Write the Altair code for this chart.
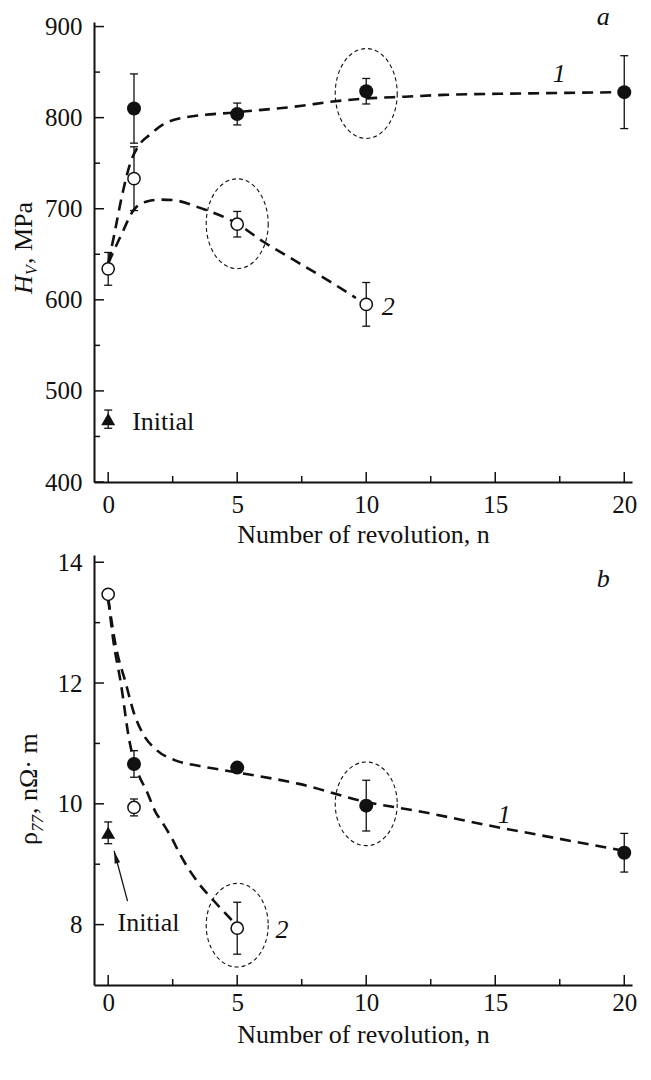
import altair as alt
import pandas as pd

FONT = "Liberation Serif"

# ---------------- panel a : microhardness ----------------
a_filled_n = [1, 5, 10, 20]
a_filled_v = [810, 804, 829, 828]
a_filled_err = [38, 12, 14, 40]

a_open_n = [0, 1, 5, 10]
a_open_v = [634, 733, 683, 595]
a_open_err = [18, 35, 14, 24]

a_init_n = [0]
a_init_v = [469]
a_init_err = [10]

a_fit1_n = [0, 0.23, 0.54, 0.88, 1.2, 1.6, 2.1, 2.75, 5, 7.5, 8.5, 10, 11.5, 13, 16, 20]
a_fit1_v = [640, 671, 715, 752, 770, 781, 792, 799, 806, 813, 817, 821, 823, 825, 826.5, 828]

a_fit2_n = [0, 0.5, 1.0, 1.5, 2.0, 2.5, 3.5, 5, 6, 7, 8.6, 9.6]
a_fit2_v = [640, 671, 699, 708, 710, 709.5, 701.5, 683.5, 664, 647, 620, 602]

a_ring_n = [5, 10]
a_ring_v = [683.5, 826.5]

a_lbl_text = ["a", "1", "2"]
a_lbl_n = [19.19, 17.48, 10.85]
a_lbl_v = [902, 839.6, 583.5]
a_init_lbl_n = [0.93]
a_init_lbl_v = [457.5]

# ---------------- panel b : resistivity ----------------
b_filled_n = [1, 5, 10, 20]
b_filled_v = [10.66, 10.60, 9.97, 9.19]
b_filled_err = [0.22, 0.04, 0.42, 0.32]

b_open_n = [0, 1, 5]
b_open_v = [13.47, 9.94, 7.94]
b_open_err = [0.03, 0.14, 0.43]

b_init_n = [0]
b_init_v = [9.52]
b_init_err = [0.18]

b_fit1_n = [0, 0.3, 0.68, 1.0, 1.32, 1.85, 2.6, 3.5, 5, 7.4, 10, 12, 15, 17.5, 20]
b_fit1_v = [13.4, 12.6, 12.0, 11.5, 11.18, 10.9, 10.72, 10.63, 10.52, 10.33, 10.03, 9.88, 9.62, 9.42, 9.22]

b_fit2_n = [0, 0.2, 0.49, 0.81, 1.2, 1.46, 1.84, 2.1, 2.49, 2.75, 3.53, 4.04, 4.82]
b_fit2_v = [13.4, 12.7, 12.0, 11.07, 10.46, 10.24, 9.86, 9.69, 9.41, 9.19, 8.67, 8.42, 8.06]

b_ring_n = [5, 10]
b_ring_v = [7.99, 10.0]

b_lbl_text = ["b", "1", "2"]
b_lbl_n = [19.19, 15.35, 6.74]
b_lbl_v = [13.586, 9.69, 7.78]
b_init_lbl_n = [0.36]
b_init_lbl_v = [7.90]

b_arrow_n = [0.75, 0.23]
b_arrow_v = [8.39, 9.22]

# ---------------- axes ticks ----------------
x_major = [0, 5, 10, 15, 20]
x_minor = [2.5, 7.5, 12.5, 17.5]
a_y_major = [400, 500, 600, 700, 800, 900]
a_y_minor = [450, 550, 650, 750, 850]
b_y_major = [8, 10, 12, 14]
b_y_minor = [9, 11, 13]

W = 538
BLACK = "#111111"


def ellipse_path(ratio):
    k = 0.5523
    r = ratio
    return (f"M1,0C1,{r*k:.4f} {k},{r} 0,{r}C-{k},{r} -1,{r*k:.4f} -1,0"
            f"C-1,-{r*k:.4f} -{k},-{r} 0,-{r}C{k},-{r} 1,-{r*k:.4f} 1,0Z")


def panel(H, ydom, y_major, y_minor, xlab_pad, xtitle_pad,
          filled, opened, init, fit1, fit2, rings, ring_ratio,
          labels, init_lbl, title_parts, arrow=None):
    xs = alt.Scale(domain=[-0.55, 20.3], nice=False, zero=False)
    ys = alt.Scale(domain=ydom, nice=False, zero=False)
    xax = alt.Axis(values=x_major, title="Number of revolution, n", ticks=False, tickSize=0,
                   labelPadding=xlab_pad, titlePadding=xtitle_pad, labelFlush=False)
    yax = alt.Axis(values=y_major, title=None, ticks=False, tickSize=0,
                   labelPadding=12, labelFlush=False)
    X = alt.X("n:Q", scale=xs, axis=xax)

    def Yf(f):
        return alt.Y(f"{f}:Q", scale=ys, axis=yax)

    layers = []
    # inner ticks
    layers.append(alt.Chart(pd.DataFrame({"n": x_major})).mark_rule(color=BLACK, strokeWidth=1.5)
                  .encode(x=X, y=alt.value(H), y2=alt.value(H - 10)))
    layers.append(alt.Chart(pd.DataFrame({"n": x_minor})).mark_rule(color=BLACK, strokeWidth=1.5)
                  .encode(x=X, y=alt.value(H), y2=alt.value(H - 6)))
    layers.append(alt.Chart(pd.DataFrame({"v": y_major})).mark_rule(color=BLACK, strokeWidth=1.5)
                  .encode(y=Yf("v"), x=alt.value(0), x2=alt.value(10)))
    layers.append(alt.Chart(pd.DataFrame({"v": y_minor})).mark_rule(color=BLACK, strokeWidth=1.5)
                  .encode(y=Yf("v"), x=alt.value(0), x2=alt.value(6)))

    # fitted dashed curves
    for fn, fv in (fit1, fit2):
        layers.append(alt.Chart(pd.DataFrame({"n": fn, "v": fv}))
                      .mark_line(color=BLACK, strokeWidth=2.6, strokeDash=[11, 7], interpolate="monotone")
                      .encode(x=X, y=Yf("v")))

    # dashed rings
    layers.append(alt.Chart(pd.DataFrame({"n": rings[0], "v": rings[1]}))
                  .mark_point(shape=ellipse_path(ring_ratio), size=3844, filled=False, stroke=BLACK,
                              strokeWidth=1.1, strokeDash=[4, 3], opacity=1)
                  .encode(x=X, y=Yf("v")))

    # arrow
    if arrow is not None:
        adf = pd.DataFrame({"n": arrow[0], "v": arrow[1]})
        layers.append(alt.Chart(adf).mark_line(color=BLACK, strokeWidth=1.3).encode(x=X, y=Yf("v")))
        layers.append(alt.Chart(adf.iloc[[1]]).mark_point(shape="M0,0L0.4,1.8L-0.4,1.8Z", size=196,
                                                         filled=True, color=BLACK, opacity=1, angle=345)
                      .encode(x=X, y=Yf("v")))

    # error bars
    for sn, sv, se in (filled, opened, init):
        edf = pd.DataFrame({"n": sn, "lo": [a - b for a, b in zip(sv, se)],
                            "hi": [a + b for a, b in zip(sv, se)]})
        layers.append(alt.Chart(edf).mark_rule(color=BLACK, strokeWidth=1.3)
                      .encode(x=X, y=Yf("lo"), y2="hi:Q"))
        for f in ("lo", "hi"):
            layers.append(alt.Chart(edf).mark_tick(orient="horizontal", size=8, thickness=1.3, color=BLACK, opacity=1)
                          .encode(x=X, y=Yf(f)))

    # points
    layers.append(alt.Chart(pd.DataFrame({"n": filled[0], "v": filled[1]}))
                  .mark_circle(size=196, color=BLACK, opacity=1).encode(x=X, y=Yf("v")))
    layers.append(alt.Chart(pd.DataFrame({"n": opened[0], "v": opened[1]}))
                  .mark_circle(size=150, fill="white", stroke=BLACK, strokeWidth=1.5, opacity=1)
                  .encode(x=X, y=Yf("v")))
    layers.append(alt.Chart(pd.DataFrame({"n": init[0], "v": init[1]}))
                  .mark_point(shape="triangle-up", size=196, filled=True, color=BLACK, opacity=1)
                  .encode(x=X, y=Yf("v")))

    # labels
    layers.append(alt.Chart(pd.DataFrame({"t": labels[0], "n": labels[1], "v": labels[2]}))
                  .mark_text(font=FONT, fontSize=26, fontStyle="italic", align="center",
                             baseline="alphabetic", color=BLACK)
                  .encode(x=X, y=Yf("v"), text="t:N"))
    layers.append(alt.Chart(pd.DataFrame({"t": ["Initial"], "n": init_lbl[0], "v": init_lbl[1]}))
                  .mark_text(font=FONT, fontSize=26, align="left", baseline="alphabetic", color=BLACK)
                  .encode(x=X, y=Yf("v"), text="t:N"))

    # y title pieces (rotated)
    one = pd.DataFrame({"k": [0]})
    for txt, px, py, fs, style in title_parts:
        layers.append(alt.Chart(one).mark_text(text=txt, font=FONT, fontSize=fs, fontStyle=style, angle=270,
                                               align="left", baseline="alphabetic", color=BLACK)
                      .encode(x=alt.value(px), y=alt.value(py)))

    return alt.layer(*layers).properties(width=W, height=H)


top = panel(460, [400, 905], a_y_major, a_y_minor, 10, 4,
            (a_filled_n, a_filled_v, a_filled_err),
            (a_open_n, a_open_v, a_open_err),
            (a_init_n, a_init_v, a_init_err),
            (a_fit1_n, a_fit1_v), (a_fit2_n, a_fit2_v),
            (a_ring_n, a_ring_v), 1.45,
            (a_lbl_text, a_lbl_n, a_lbl_v), (a_init_lbl_n, a_init_lbl_v),
            [("H", -62, 272, 26, "italic"), ("V", -57, 253, 16, "italic"), (", MPa", -62, 242, 26, "normal")])

bottom = panel(430, [7, 14.12], b_y_major, b_y_minor, 5, 6,
               (b_filled_n, b_filled_v, b_filled_err),
               (b_open_n, b_open_v, b_open_err),
               (b_init_n, b_init_v, b_init_err),
               (b_fit1_n, b_fit1_v), (b_fit2_n, b_fit2_v),
               (b_ring_n, b_ring_v), 1.35,
               (b_lbl_text, b_lbl_n, b_lbl_v), (b_init_lbl_n, b_init_lbl_v),
               [("ρ", -57, 290, 26, "normal"), ("77", -51, 277, 17, "italic"), (", nΩ· m", -57, 259, 26, "normal")],
               arrow=(b_arrow_n, b_arrow_v))

chart = (alt.vconcat(top, bottom, spacing=73, bounds="flush")
         .properties(padding={"left": 3, "top": -5, "right": 5, "bottom": 5})
         .configure_view(stroke=None)
         .configure_axis(labelFont=FONT, titleFont=FONT, labelFontSize=25, titleFontSize=26,
                         titleFontWeight="normal", labelColor=BLACK, titleColor=BLACK,
                         domainColor=BLACK, domainWidth=2, grid=False))

chart.save("out.html", embed_options={"renderer": "svg", "actions": False})
